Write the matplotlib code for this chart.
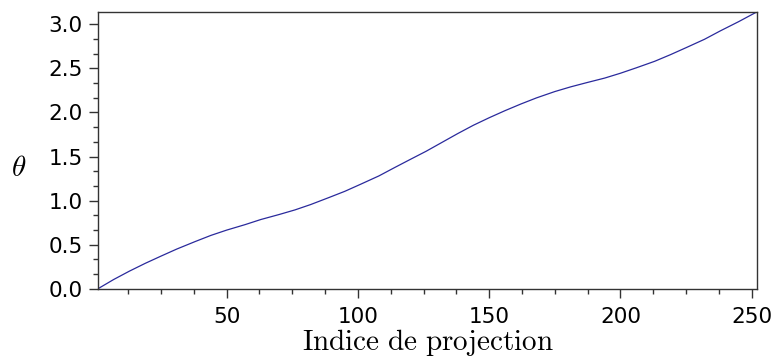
import numpy as np
import matplotlib
matplotlib.use("Agg")
import matplotlib.pyplot as plt
from matplotlib.ticker import MultipleLocator, AutoMinorLocator, FormatStrFormatter

# projection index and angle theta
indices = [1, 7, 13, 19, 25, 31, 38, 44, 50, 57, 63, 70, 76, 82, 89, 95,
           101, 108, 114, 120, 126, 132, 138, 144, 150, 156, 162, 168, 175,
           181, 187, 194, 200, 206, 213, 219, 225, 232, 238, 245, 252]
theta = [0.0, 0.105, 0.200, 0.288, 0.370, 0.450, 0.535, 0.605, 0.665, 0.727,
         0.785, 0.842, 0.894, 0.955, 1.035, 1.105, 1.185, 1.28, 1.375, 1.468,
         1.56, 1.66, 1.76, 1.855, 1.94, 2.02, 2.095, 2.165, 2.237, 2.29, 2.337,
         2.39, 2.445, 2.506, 2.58, 2.655, 2.735, 2.83, 2.925, 3.03, np.pi]

plt.rcParams['mathtext.fontset'] = 'cm'

fig = plt.figure(figsize=(7.77, 3.58), dpi=100)
ax = fig.add_axes([0.1261, 0.1935, 0.8482, 0.7735])

ax.plot(indices, theta, color='#2a2a9c', linewidth=0.9)

ax.set_xlim(1, 252)
ax.set_ylim(0, np.pi)

ax.xaxis.set_major_locator(MultipleLocator(50))
ax.xaxis.set_minor_locator(AutoMinorLocator(4))
ax.yaxis.set_major_locator(MultipleLocator(0.5))
ax.yaxis.set_minor_locator(AutoMinorLocator(3))
ax.yaxis.set_major_formatter(FormatStrFormatter('%.1f'))

for s in ax.spines.values():
    s.set_color('#333333')
    s.set_linewidth(1.0)

ax.tick_params(which='major', direction='out', length=6.5, width=1.0,
               color='#333333', labelsize=15.5)
ax.tick_params(which='minor', direction='out', length=3.3, width=1.0,
               color='#333333')
ax.tick_params(axis='x', which='major', pad=7)
ax.tick_params(axis='y', which='major', pad=4.5)
ax.tick_params(top=False, right=False, which='both')

ax.set_xlabel(r'$\mathrm{Indice\ de\ projection}$', fontsize=21, labelpad=0)
ax.set_ylabel(r'$\theta$', fontsize=21, rotation=0, va='center', ha='center')
ax.yaxis.set_label_coords(-0.121, 0.437)

fig.savefig('out.png', dpi=100)
